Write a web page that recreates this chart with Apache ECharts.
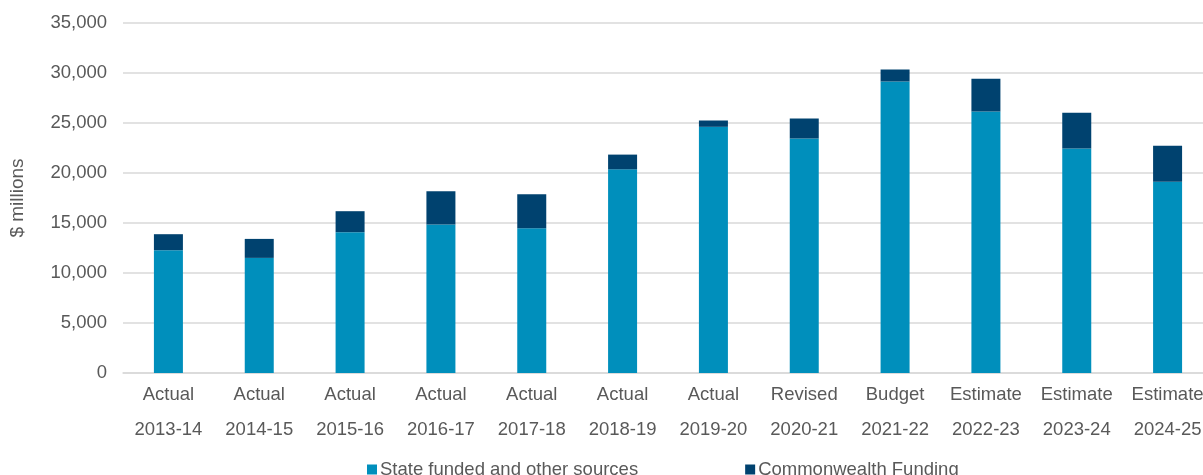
<!DOCTYPE html>
<html>
<head>
<meta charset="utf-8">
<script src="https://cdn.jsdelivr.net/npm/echarts@6/dist/echarts.min.js"></script>
<style>
  html, body { margin: 0; padding: 0; background: #fff; }
  #chart { width: 1203px; height: 475px; }
</style>
</head>
<body>
<div id="chart"></div>
<script>
var stages = ['Actual', 'Actual', 'Actual', 'Actual', 'Actual', 'Actual', 'Actual',
              'Revised', 'Budget', 'Estimate', 'Estimate', 'Estimate'];
var years = ['2013-14', '2014-15', '2015-16', '2016-17', '2017-18', '2018-19',
             '2019-20', '2020-21', '2021-22', '2022-23', '2023-24', '2024-25'];
var stateFunded = [12280, 11510, 14080, 14850, 14480, 20370, 24620, 23450, 29150, 26150, 22450, 19120];
var commonwealth = [1600, 1900, 2100, 3330, 3400, 1470, 630, 2000, 1200, 3270, 3570, 3600];
var yTicks = [0, 5000, 10000, 15000, 20000, 25000, 30000, 35000];

var labelColor = '#595959';
var font = "'Liberation Sans', Arial, sans-serif";

var categories = [];
for (var i = 0; i < years.length; i++) {
    categories.push(stages[i] + '\n' + years[i]);
}

var chart = echarts.init(document.getElementById('chart'));

var option = {
    animation: false,
    textStyle: { fontFamily: font },
    grid: {
        left: 123,
        top: 23,
        width: 1090,   // plot runs past the right edge, as in the source
        height: 350,
        outerBoundsMode: 'none',
        containLabel: false
    },
    legend: {
        left: 362,
        top: 455,
        itemWidth: 10,
        itemHeight: 10,
        itemGap: 107,
        icon: 'rect',
        textStyle: { color: labelColor, fontSize: 18.5, fontFamily: font, padding: [0, 0, 0, -2] },
        data: ['State funded and other sources', 'Commonwealth Funding']
    },
    xAxis: {
        type: 'category',
        data: categories,
        axisLine: { lineStyle: { color: '#d9d9d9', width: 1.5 } },
        axisTick: { show: false },
        axisLabel: {
            color: labelColor,
            fontSize: 18.5,
            lineHeight: 35,
            margin: 4,
            interval: 0
        }
    },
    yAxis: {
        type: 'value',
        min: yTicks[0],
        max: yTicks[yTicks.length - 1],
        interval: 5000,
        name: '$ millions',
        nameLocation: 'middle',
        nameGap: 96,
        nameTextStyle: { color: labelColor, fontSize: 19 },
        axisLine: { show: false },
        axisTick: { show: false },
        splitLine: { lineStyle: { color: '#d9d9d9', width: 1.5 } },
        axisLabel: {
            color: labelColor,
            fontSize: 18.5,
            margin: 16,
            formatter: function (v) { return v.toLocaleString('en-US'); }
        }
    },
    series: [
        {
            name: 'State funded and other sources',
            type: 'bar',
            stack: 'total',
            barWidth: 29,
            itemStyle: { color: '#008fbc' },
            data: stateFunded
        },
        {
            name: 'Commonwealth Funding',
            type: 'bar',
            stack: 'total',
            barWidth: 29,
            itemStyle: { color: '#00426f' },
            data: commonwealth
        }
    ]
};

chart.setOption(option);
</script>
</body>
</html>
